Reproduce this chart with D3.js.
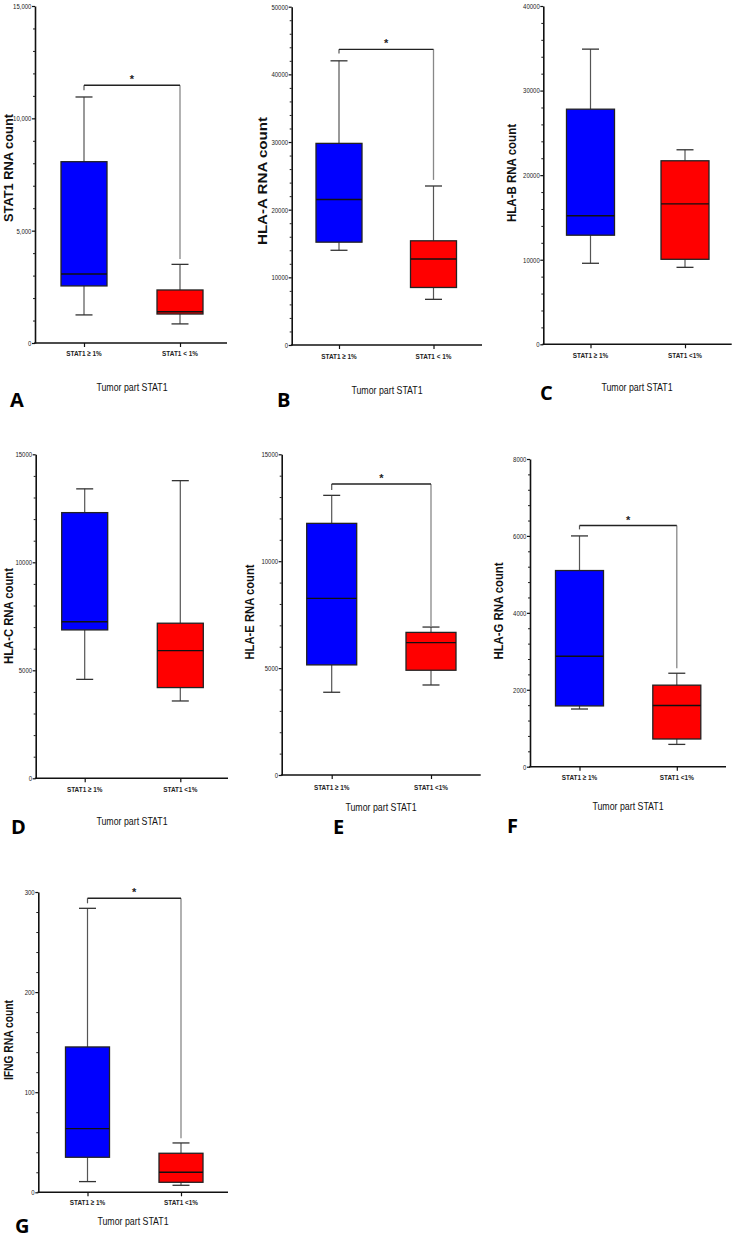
<!DOCTYPE html>
<html>
<head>
<meta charset="utf-8">
<script src="https://cdn.jsdelivr.net/npm/d3@7"></script>
<style>
  html, body { margin: 0; padding: 0; background: #fff; }
  svg { display: block; }
  .narrow { font-family: "Liberation Sans", Arial, sans-serif; }
</style>
</head>
<body>
<svg id="chart" width="734" height="1240"></svg>
<script>
// ---------------- DATA ----------------
const panelLetters = ["A", "B", "C", "D", "E", "F", "G"];
const yTitles = ["STAT1 RNA count", "HLA-A RNA count", "HLA-B RNA count", "HLA-C RNA count",
                 "HLA-E RNA count", "HLA-G RNA count", "IFNG RNA count"];
const xTitle = "Tumor part STAT1";
const yMaxes = [15000, 50000, 40000, 15000, 15000, 8000, 300];
const majorSteps = [5000, 10000, 10000, 5000, 5000, 2000, 100];
const minorSteps = [1000, 2000, 2000, 1000, 1000, 400, 20];
const yTickFormats = [",", "d", "d", "d", "d", "d", "d"];
const groupLabelsAB = ["STAT1 \u2265 1%", "STAT1 < 1%"];
const groupLabelsRest = ["STAT1 \u2265 1%", "STAT1 <1%"];
const xTickLabels = [groupLabelsAB, groupLabelsAB, groupLabelsRest, groupLabelsRest,
                     groupLabelsRest, groupLabelsRest, groupLabelsRest];
// box stats: [min, q1, median, q3, max]
const statsHigh = [
  [1250, 2540, 3070, 8070, 10950],
  [14000, 15200, 21500, 29800, 42000],
  [9580, 12900, 15200, 27800, 34900],
  [4580, 6870, 7250, 12300, 13400],
  [3870, 5150, 8260, 11770, 13080],
  [1500, 1580, 2870, 5100, 6000],
  [10.7, 35, 63.6, 145.2, 283.7]
];
const statsLow = [
  [850, 1290, 1390, 2360, 3500],
  [6750, 8500, 12700, 15400, 23500],
  [9100, 10050, 16600, 21700, 23000],
  [3580, 4200, 5910, 7180, 13780],
  [4210, 4900, 6190, 6670, 6920],
  [580, 720, 1590, 2120, 2430],
  [7, 10, 20, 39, 49.3]
];
// significance bracket: [bar level, left end, right end] ; null = none
const sigBrackets = [
  [11470, 11250, 3740],
  [43700, 43100, 24400],
  null,
  null,
  [13610, 13330, 6920],
  [6270, 6170, 2560],
  [293.7, 288.7, 54]
];
const sigMark = "*";

// ---------------- LAYOUT ----------------
const NARROW = 0.8;
const layout = [
  {ax: 35,    y0: 343,   yTop: 6,     xEnd: 227,   c1: 84,    c2: 180,   hw: 23, tickY: 356,   tX: 132, tY: 391,  lX: 10,  lY: 407,  ytX: 9,     ytY: 168,  ytLen: 108},
  {ax: 291.7, y0: 345,   yTop: 6.7,   xEnd: 482,   c1: 339,   c2: 433.5, hw: 23, tickY: 359,   tX: 387, tY: 394,  lX: 277, lY: 407,  ytX: 263,   ytY: 181,  ytLen: 128},
  {ax: 543.3, y0: 344.3, yTop: 6,     xEnd: 731.7, c1: 590.5, c2: 685,   hw: 24, tickY: 358,   tX: 637, tY: 391,  lX: 540, lY: 400,  ytX: 512,   ytY: 173,  ytLen: 98},
  {ax: 35.7,  y0: 778.3, yTop: 454.3, xEnd: 228,   c1: 84.7,  c2: 180.3, hw: 23, tickY: 792,   tX: 132, tY: 825,  lX: 11,  lY: 834,  ytX: 9,     ytY: 616,  ytLen: 96},
  {ax: 281.7, y0: 775,   yTop: 454.3, xEnd: 480.7, c1: 331.7, c2: 431,   hw: 25, tickY: 790,   tX: 381, tY: 811,  lX: 333, lY: 834,  ytX: 250,   ytY: 612,  ytLen: 95},
  {ax: 530,   y0: 766.7, yTop: 459,   xEnd: 726,   c1: 579.5, c2: 676.8, hw: 24, tickY: 780,   tX: 628, tY: 810,  lX: 507, lY: 833,  ytX: 499,   ytY: 611,  ytLen: 97},
  {ax: 38.3,  y0: 1192.3,yTop: 892,   xEnd: 228,   c1: 87.5,  c2: 181,   hw: 22, tickY: 1205,  tX: 133, tY: 1225, lX: 15,  lY: 1233, ytX: 9,     ytY: 1040, ytLen: 80}
];
const boxColors = ["#0000ff", "#ff0000"];

// ---------------- DRAW ----------------
const svg = d3.select("#chart");

panelLetters.forEach((letter, i) => {
  const L = layout[i];
  const g = svg.append("g");
  const y = d3.scaleLinear().domain([0, yMaxes[i]]).range([L.y0, L.yTop]);
  const x = d3.scalePoint().domain(xTickLabels[i]).range([L.c1, L.c2]);

  const majors = d3.range(0, yMaxes[i] + 1e-9, majorSteps[i]);
  const minors = d3.range(0, yMaxes[i] + 1e-9, minorSteps[i]).filter(v => !majors.some(m => Math.abs(m - v) < 1e-6));

  // minor ticks
  g.append("g")
    .attr("transform", `translate(${L.ax},0)`)
    .call(d3.axisLeft(y).tickValues(minors).tickSize(2).tickFormat(""))
    .call(s => s.select(".domain").remove())
    .call(s => s.selectAll("line").attr("stroke", "#222").attr("stroke-width", 1));

  // major ticks + y axis line
  const yAx = g.append("g")
    .attr("transform", `translate(${L.ax},0)`)
    .call(d3.axisLeft(y).tickValues(majors).tickSize(3).tickSizeOuter(0).tickPadding(1.5)
      .tickFormat(d3.format(yTickFormats[i])));
  yAx.select(".domain").attr("stroke", "#111").attr("stroke-width", 1.6);
  yAx.selectAll(".tick line").attr("stroke", "#111").attr("stroke-width", 1.2);
  yAx.selectAll("text").attr("class", "narrow").attr("font-size", 7.5).attr("fill", "#222")
    .attr("transform", `scale(${NARROW},1)`);

  // x axis
  g.append("line")
    .attr("x1", L.ax - 0.8).attr("x2", L.xEnd)
    .attr("y1", L.y0).attr("y2", L.y0)
    .attr("stroke", "#111").attr("stroke-width", 1.6);
  const xAx = g.append("g")
    .attr("transform", `translate(0,${L.y0})`)
    .call(d3.axisBottom(x).tickSize(4).tickPadding(4))
    .call(s => s.select(".domain").remove());
  xAx.selectAll(".tick line").attr("stroke", "#111").attr("stroke-width", 1.2);
  xAx.selectAll("text").remove();
  g.selectAll("text.xtick")
    .data(xTickLabels[i]).join("text")
    .attr("class", "xtick narrow")
    .attr("transform", d => `translate(${x(d)},${L.tickY}) scale(${NARROW},1)`)
    .attr("text-anchor", "middle")
    .attr("font-size", 8).attr("font-weight", "bold").attr("fill", "#222")
    .text(d => d);

  // boxes
  const stats = [statsHigh[i], statsLow[i]];
  stats.forEach((s, k) => {
    const cx = x(xTickLabels[i][k]);
    const [mn, q1, md, q3, mx] = s;
    const cap = 8.5;
    const wg = g.append("g");
    wg.append("line").attr("x1", cx).attr("x2", cx).attr("y1", y(mx)).attr("y2", y(q3))
      .attr("stroke", "#555").attr("stroke-width", 1.2);
    wg.append("line").attr("x1", cx).attr("x2", cx).attr("y1", y(q1)).attr("y2", y(mn))
      .attr("stroke", "#555").attr("stroke-width", 1.2);
    wg.append("line").attr("x1", cx - cap).attr("x2", cx + cap).attr("y1", y(mx)).attr("y2", y(mx))
      .attr("stroke", "#333").attr("stroke-width", 1.3);
    wg.append("line").attr("x1", cx - cap).attr("x2", cx + cap).attr("y1", y(mn)).attr("y2", y(mn))
      .attr("stroke", "#333").attr("stroke-width", 1.3);
    wg.append("rect")
      .attr("x", cx - L.hw).attr("width", 2 * L.hw)
      .attr("y", y(q3)).attr("height", y(q1) - y(q3))
      .attr("fill", boxColors[k]).attr("stroke", "#222").attr("stroke-width", 1.3);
    wg.append("line").attr("x1", cx - L.hw).attr("x2", cx + L.hw).attr("y1", y(md)).attr("y2", y(md))
      .attr("stroke", "#111").attr("stroke-width", 1.4);
  });

  // significance bracket
  const sb = sigBrackets[i];
  if (sb) {
    const [lev, lEnd, rEnd] = sb;
    const x1 = x(xTickLabels[i][0]), x2 = x(xTickLabels[i][1]);
    g.append("line").attr("x1", x1).attr("x2", x1).attr("y1", y(lev)).attr("y2", y(lEnd))
      .attr("stroke", "#555").attr("stroke-width", 1.2);
    g.append("line").attr("x1", x2).attr("x2", x2).attr("y1", y(lev)).attr("y2", y(rEnd))
      .attr("stroke", "#888").attr("stroke-width", 1.3);
    g.append("line").attr("x1", x1).attr("x2", x2).attr("y1", y(lev)).attr("y2", y(lev))
      .attr("stroke", "#222").attr("stroke-width", 1.4);
    g.append("text")
      .attr("x", (x1 + x2) / 2).attr("y", y(lev) - 2)
      .attr("text-anchor", "middle")
      .attr("font-family", "Liberation Sans, sans-serif")
      .attr("font-size", 11).attr("font-weight", "bold").attr("fill", "#222")
      .text(sigMark);
  }

  // y title
  g.append("text")
    .attr("transform", `translate(${L.ytX},${L.ytY}) rotate(-90)`)
    .attr("text-anchor", "middle").attr("dominant-baseline", "central")
    .attr("font-family", "Liberation Sans, Arial, sans-serif")
    .attr("font-size", 12.5).attr("font-weight", "bold").attr("fill", "#111")
    .attr("textLength", L.ytLen).attr("lengthAdjust", "spacingAndGlyphs")
    .text(yTitles[i]);

  // x title
  g.append("text")
    .attr("class", "narrow")
    .attr("transform", `translate(${L.tX},${L.tY}) scale(${NARROW},1)`)
    .attr("text-anchor", "middle")
    .attr("font-size", 11).attr("fill", "#111")
    .text(xTitle);

  // panel letter
  g.append("text")
    .attr("x", L.lX).attr("y", L.lY)
    .attr("font-family", "Open Sans, sans-serif")
    .attr("font-size", 20).attr("font-weight", "bold").attr("fill", "#000")
    .text(letter);
});
</script>
</body>
</html>
